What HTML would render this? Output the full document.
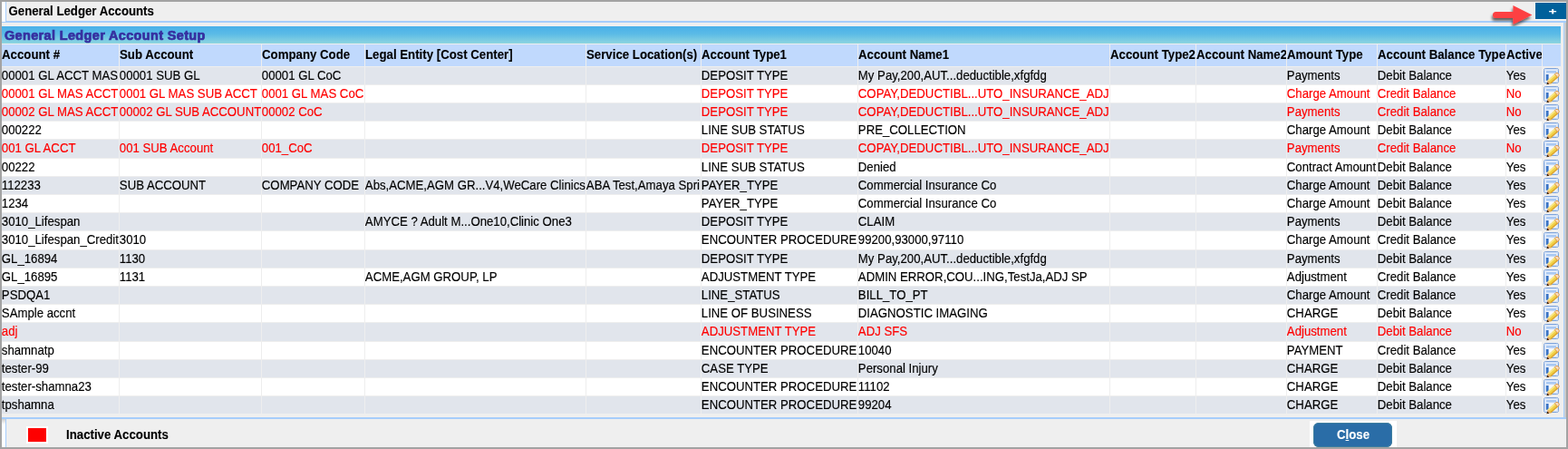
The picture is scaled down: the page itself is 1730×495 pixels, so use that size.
<!DOCTYPE html>
<html lang="en"><head><meta charset="utf-8"><title>General Ledger Accounts</title>
<style>
html,body{margin:0;padding:0}
body{width:1730px;height:495px;overflow:hidden;background:#a3a3a3;position:relative;font-family:"Liberation Sans",sans-serif;font-size:13px;color:#000}
#win{position:absolute;left:2px;top:2px;width:1726px;height:491px;background:#efefef;overflow:hidden}
.abs{position:absolute}
#title{left:7px;top:0;height:21px;line-height:21px;font-size:14px;white-space:nowrap}
#title b{transform:translateX(.5px) scaleX(.944)}
#sect{left:0;top:27px;width:1720px;height:19px;background:linear-gradient(#49b0e9,#5bbbe6 45%,#8ed5e0);}
#sect span{position:absolute;left:2.8px;top:1.4px;line-height:19px;font-weight:bold;font-size:13.8px;color:#3630a0;letter-spacing:.36px;white-space:nowrap;-webkit-text-stroke:.7px #3630a0;transform-origin:0 50%;transform:scaleX(1.046)}
#grid{left:0;top:46px;width:1720px;height:408px;background:#eeeeee}
.c{position:absolute;overflow:hidden;white-space:nowrap;height:19px;line-height:19px;font-size:14px}
b,i{display:inline-block;font-style:normal;transform-origin:0 50%;transform:scaleX(.946);white-space:nowrap}
i{font-weight:normal;-webkit-text-stroke:.15px currentColor;transform:translateX(-.15px) scaleX(.942)}
b{font-weight:bold;-webkit-text-stroke:.1px currentColor}
.h{position:absolute;overflow:hidden;white-space:nowrap;height:24px;line-height:22px;font-size:14px;background:#c0d9fd;top:1px}
.o{background:#e1e5ec}.e{background:#fff}
.r{color:#f00}
.ic{position:absolute;left:1px;top:1px}
.k{background:#efefef;overflow:visible}
#legend{left:71px;top:468px;font-size:14px;line-height:19px;white-space:nowrap}
#btn{left:1447.3px;top:463.5px;width:87px;height:27.2px;border-radius:6px;background:#2a6da7;color:#fff;font-size:14px;line-height:27px;box-shadow:0 0 0 1px #3f7f9f inset}
#btn b{position:absolute;left:26px;top:0;-webkit-text-stroke:.1px #fff}
#btn u{text-decoration:underline;text-decoration-thickness:1px;text-underline-offset:1px}
#plus{left:1691px;top:0;width:35px;height:18px;border:1px solid #f8f6f2;border-right:0;background:#00619b;color:#fff;font:bold 9px/18px "Liberation Sans",sans-serif;text-align:center}
#plus span{display:inline-block;transform:translate(1.5px,.8px) scaleX(1.65);-webkit-text-stroke:.3px #fff}
</style></head><body>
<div id="win">
<div class="abs" style="left:0;top:0;width:4px;height:22px;background:#fff"></div>
<div class="abs" style="left:4px;top:0;width:1px;height:22px;background:#a6cdfb"></div>
<div class="abs" style="left:4px;top:21px;width:1722px;height:2px;background:#a6cdfb"></div>
<div class="abs" style="left:0;top:22px;width:4px;height:1px;background:#a6cdfb"></div>
<div class="abs" id="title"><b>General Ledger Accounts</b></div>
<div class="abs" id="plus"><span>+</span></div>
<svg class="abs" style="left:1636px;top:0" width="60" height="32" viewBox="0 0 60 32"><defs><filter id="sh" x="-30%" y="-30%" width="160%" height="180%"><feGaussianBlur in="SourceAlpha" stdDeviation="1.5"/><feOffset dx="-0.6" dy="2.6"/><feComponentTransfer><feFuncA type="linear" slope="0.6"/></feComponentTransfer><feMerge><feMergeNode/><feMergeNode in="SourceGraphic"/></feMerge></filter></defs><path filter="url(#sh)" d="M12.5 11 L31.4 11 L31.4 4 L52.4 14.6 L31.4 25 L31.4 18 L12.5 18 A3.5 3.5 0 0 1 12.5 11 Z" fill="#fd4042"/></svg>
<div class="abs" id="sect"><span>General Ledger Account Setup</span></div>
<div class="abs" id="grid">
<div class="h" style="left:0px;width:129px"><b>Account #</b></div>
<div class="h" style="left:130px;width:156px"><b>Sub Account</b></div>
<div class="h" style="left:287px;width:113px"><b>Company Code</b></div>
<div class="h" style="left:401px;width:243px"><b>Legal Entity [Cost Center]</b></div>
<div class="h" style="left:645px;width:126px"><b>Service Location(s)</b></div>
<div class="h" style="left:772px;width:172px"><b>Account Type1</b></div>
<div class="h" style="left:945px;width:277px"><b>Account Name1</b></div>
<div class="h" style="left:1223px;width:94px"><b>Account Type2</b></div>
<div class="h" style="left:1318px;width:99px"><b>Account Name2</b></div>
<div class="h" style="left:1418px;width:99px"><b>Amount Type</b></div>
<div class="h" style="left:1518px;width:141px"><b>Account Balance Type</b></div>
<div class="h" style="left:1660px;width:39px"><b>Active</b></div>
<div class="h" style="left:1700px;width:20px"><b></b></div>
<div class="c o" style="left:0px;top:26px;width:129px"><i>00001 GL ACCT MAS</i></div>
<div class="c o" style="left:130px;top:26px;width:156px"><i>00001 SUB GL</i></div>
<div class="c o" style="left:287px;top:26px;width:113px"><i>00001 GL CoC</i></div>
<div class="c o" style="left:401px;top:26px;width:243px"></div>
<div class="c o" style="left:645px;top:26px;width:126px"></div>
<div class="c o" style="left:772px;top:26px;width:172px"><i>DEPOSIT TYPE</i></div>
<div class="c o" style="left:945px;top:26px;width:277px"><i>My Pay,200,AUT...deductible,xfgfdg</i></div>
<div class="c o" style="left:1223px;top:26px;width:94px"></div>
<div class="c o" style="left:1318px;top:26px;width:99px"></div>
<div class="c o" style="left:1418px;top:26px;width:99px"><i>Payments</i></div>
<div class="c o" style="left:1518px;top:26px;width:141px"><i>Debit Balance</i></div>
<div class="c o" style="left:1660px;top:26px;width:39px"><i>Yes</i></div>
<div class="c k" style="left:1700px;top:26px;width:20px"><svg class="ic" viewBox="0 0 19 19" width="19" height="19"><rect x="0.5" y="0.5" width="16" height="16" rx="1.8" fill="#e9f0fb" stroke="#7ea3da"/><rect x="1.6" y="1.6" width="13.8" height="13.8" fill="none" stroke="#cfdff7" stroke-width="1.1"/><rect x="3" y="3" width="11" height="2.6" fill="#a9c8f2"/><rect x="3" y="6.6" width="11" height="7.6" fill="#f6f8fd"/><rect x="2.8" y="7" width="2.8" height="6.8" fill="#3a74c5"/><g transform="translate(3.7 18) rotate(-42.6)"><path d="M3.4 -2.6 L14.4 -2.6 L14.4 2.6 L3.4 2.6 Z" fill="#f1d146"/><path d="M3.4 -2.6 L14.4 -2.6 L14.4 -1 L3.4 -1 Z" fill="#f9e98e"/><path d="M3.4 1.2 L14.4 1.2 L14.4 2.6 L3.4 2.6 Z" fill="#dca232"/><path d="M14 -2.4 L15.6 -2.4 Q17.4 -2 17.4 0 Q17.4 2 15.6 2.4 L14 2.4 Z" fill="#f8dcc0" stroke="#dc9447" stroke-width="0.9"/><path d="M0 0 L3.8 -2.6 L3.8 2.6 Z" fill="#e9ab6c"/><path d="M-0.4 0 L2.1 -1.5 L2.1 1.5 Z" fill="#3a2006"/></g></svg></div>
<div class="c e r" style="left:0px;top:46px;width:129px"><i>00001 GL MAS ACCT</i></div>
<div class="c e r" style="left:130px;top:46px;width:156px"><i>0001 GL MAS SUB ACCT</i></div>
<div class="c e r" style="left:287px;top:46px;width:113px"><i>0001 GL MAS CoC</i></div>
<div class="c e r" style="left:401px;top:46px;width:243px"></div>
<div class="c e r" style="left:645px;top:46px;width:126px"></div>
<div class="c e r" style="left:772px;top:46px;width:172px"><i>DEPOSIT TYPE</i></div>
<div class="c e r" style="left:945px;top:46px;width:277px"><i>COPAY,DEDUCTIBL...UTO_INSURANCE_ADJ</i></div>
<div class="c e r" style="left:1223px;top:46px;width:94px"></div>
<div class="c e r" style="left:1318px;top:46px;width:99px"></div>
<div class="c e r" style="left:1418px;top:46px;width:99px"><i>Charge Amount</i></div>
<div class="c e r" style="left:1518px;top:46px;width:141px"><i>Credit Balance</i></div>
<div class="c e r" style="left:1660px;top:46px;width:39px"><i>No</i></div>
<div class="c k" style="left:1700px;top:46px;width:20px"><svg class="ic" viewBox="0 0 19 19" width="19" height="19"><rect x="0.5" y="0.5" width="16" height="16" rx="1.8" fill="#e9f0fb" stroke="#7ea3da"/><rect x="1.6" y="1.6" width="13.8" height="13.8" fill="none" stroke="#cfdff7" stroke-width="1.1"/><rect x="3" y="3" width="11" height="2.6" fill="#a9c8f2"/><rect x="3" y="6.6" width="11" height="7.6" fill="#f6f8fd"/><rect x="2.8" y="7" width="2.8" height="6.8" fill="#3a74c5"/><g transform="translate(3.7 18) rotate(-42.6)"><path d="M3.4 -2.6 L14.4 -2.6 L14.4 2.6 L3.4 2.6 Z" fill="#f1d146"/><path d="M3.4 -2.6 L14.4 -2.6 L14.4 -1 L3.4 -1 Z" fill="#f9e98e"/><path d="M3.4 1.2 L14.4 1.2 L14.4 2.6 L3.4 2.6 Z" fill="#dca232"/><path d="M14 -2.4 L15.6 -2.4 Q17.4 -2 17.4 0 Q17.4 2 15.6 2.4 L14 2.4 Z" fill="#f8dcc0" stroke="#dc9447" stroke-width="0.9"/><path d="M0 0 L3.8 -2.6 L3.8 2.6 Z" fill="#e9ab6c"/><path d="M-0.4 0 L2.1 -1.5 L2.1 1.5 Z" fill="#3a2006"/></g></svg></div>
<div class="c o r" style="left:0px;top:66px;width:129px"><i>00002 GL MAS ACCT</i></div>
<div class="c o r" style="left:130px;top:66px;width:156px"><i>00002 GL SUB ACCOUNT</i></div>
<div class="c o r" style="left:287px;top:66px;width:113px"><i>00002 CoC</i></div>
<div class="c o r" style="left:401px;top:66px;width:243px"></div>
<div class="c o r" style="left:645px;top:66px;width:126px"></div>
<div class="c o r" style="left:772px;top:66px;width:172px"><i>DEPOSIT TYPE</i></div>
<div class="c o r" style="left:945px;top:66px;width:277px"><i>COPAY,DEDUCTIBL...UTO_INSURANCE_ADJ</i></div>
<div class="c o r" style="left:1223px;top:66px;width:94px"></div>
<div class="c o r" style="left:1318px;top:66px;width:99px"></div>
<div class="c o r" style="left:1418px;top:66px;width:99px"><i>Payments</i></div>
<div class="c o r" style="left:1518px;top:66px;width:141px"><i>Credit Balance</i></div>
<div class="c o r" style="left:1660px;top:66px;width:39px"><i>No</i></div>
<div class="c k" style="left:1700px;top:66px;width:20px"><svg class="ic" viewBox="0 0 19 19" width="19" height="19"><rect x="0.5" y="0.5" width="16" height="16" rx="1.8" fill="#e9f0fb" stroke="#7ea3da"/><rect x="1.6" y="1.6" width="13.8" height="13.8" fill="none" stroke="#cfdff7" stroke-width="1.1"/><rect x="3" y="3" width="11" height="2.6" fill="#a9c8f2"/><rect x="3" y="6.6" width="11" height="7.6" fill="#f6f8fd"/><rect x="2.8" y="7" width="2.8" height="6.8" fill="#3a74c5"/><g transform="translate(3.7 18) rotate(-42.6)"><path d="M3.4 -2.6 L14.4 -2.6 L14.4 2.6 L3.4 2.6 Z" fill="#f1d146"/><path d="M3.4 -2.6 L14.4 -2.6 L14.4 -1 L3.4 -1 Z" fill="#f9e98e"/><path d="M3.4 1.2 L14.4 1.2 L14.4 2.6 L3.4 2.6 Z" fill="#dca232"/><path d="M14 -2.4 L15.6 -2.4 Q17.4 -2 17.4 0 Q17.4 2 15.6 2.4 L14 2.4 Z" fill="#f8dcc0" stroke="#dc9447" stroke-width="0.9"/><path d="M0 0 L3.8 -2.6 L3.8 2.6 Z" fill="#e9ab6c"/><path d="M-0.4 0 L2.1 -1.5 L2.1 1.5 Z" fill="#3a2006"/></g></svg></div>
<div class="c e" style="left:0px;top:86px;width:129px"><i>000222</i></div>
<div class="c e" style="left:130px;top:86px;width:156px"></div>
<div class="c e" style="left:287px;top:86px;width:113px"></div>
<div class="c e" style="left:401px;top:86px;width:243px"></div>
<div class="c e" style="left:645px;top:86px;width:126px"></div>
<div class="c e" style="left:772px;top:86px;width:172px"><i>LINE SUB STATUS</i></div>
<div class="c e" style="left:945px;top:86px;width:277px"><i>PRE_COLLECTION</i></div>
<div class="c e" style="left:1223px;top:86px;width:94px"></div>
<div class="c e" style="left:1318px;top:86px;width:99px"></div>
<div class="c e" style="left:1418px;top:86px;width:99px"><i>Charge Amount</i></div>
<div class="c e" style="left:1518px;top:86px;width:141px"><i>Debit Balance</i></div>
<div class="c e" style="left:1660px;top:86px;width:39px"><i>Yes</i></div>
<div class="c k" style="left:1700px;top:86px;width:20px"><svg class="ic" viewBox="0 0 19 19" width="19" height="19"><rect x="0.5" y="0.5" width="16" height="16" rx="1.8" fill="#e9f0fb" stroke="#7ea3da"/><rect x="1.6" y="1.6" width="13.8" height="13.8" fill="none" stroke="#cfdff7" stroke-width="1.1"/><rect x="3" y="3" width="11" height="2.6" fill="#a9c8f2"/><rect x="3" y="6.6" width="11" height="7.6" fill="#f6f8fd"/><rect x="2.8" y="7" width="2.8" height="6.8" fill="#3a74c5"/><g transform="translate(3.7 18) rotate(-42.6)"><path d="M3.4 -2.6 L14.4 -2.6 L14.4 2.6 L3.4 2.6 Z" fill="#f1d146"/><path d="M3.4 -2.6 L14.4 -2.6 L14.4 -1 L3.4 -1 Z" fill="#f9e98e"/><path d="M3.4 1.2 L14.4 1.2 L14.4 2.6 L3.4 2.6 Z" fill="#dca232"/><path d="M14 -2.4 L15.6 -2.4 Q17.4 -2 17.4 0 Q17.4 2 15.6 2.4 L14 2.4 Z" fill="#f8dcc0" stroke="#dc9447" stroke-width="0.9"/><path d="M0 0 L3.8 -2.6 L3.8 2.6 Z" fill="#e9ab6c"/><path d="M-0.4 0 L2.1 -1.5 L2.1 1.5 Z" fill="#3a2006"/></g></svg></div>
<div class="c o r" style="left:0px;top:106px;width:129px;height:20px"><i>001 GL ACCT</i></div>
<div class="c o r" style="left:130px;top:106px;width:156px;height:20px"><i>001 SUB Account</i></div>
<div class="c o r" style="left:287px;top:106px;width:113px;height:20px"><i>001_CoC</i></div>
<div class="c o r" style="left:401px;top:106px;width:243px;height:20px"></div>
<div class="c o r" style="left:645px;top:106px;width:126px;height:20px"></div>
<div class="c o r" style="left:772px;top:106px;width:172px;height:20px"><i>DEPOSIT TYPE</i></div>
<div class="c o r" style="left:945px;top:106px;width:277px;height:20px"><i>COPAY,DEDUCTIBL...UTO_INSURANCE_ADJ</i></div>
<div class="c o r" style="left:1223px;top:106px;width:94px;height:20px"></div>
<div class="c o r" style="left:1318px;top:106px;width:99px;height:20px"></div>
<div class="c o r" style="left:1418px;top:106px;width:99px;height:20px"><i>Payments</i></div>
<div class="c o r" style="left:1518px;top:106px;width:141px;height:20px"><i>Credit Balance</i></div>
<div class="c o r" style="left:1660px;top:106px;width:39px;height:20px"><i>No</i></div>
<div class="c k" style="left:1700px;top:106px;width:20px"><svg class="ic" viewBox="0 0 19 19" width="19" height="19"><rect x="0.5" y="0.5" width="16" height="16" rx="1.8" fill="#e9f0fb" stroke="#7ea3da"/><rect x="1.6" y="1.6" width="13.8" height="13.8" fill="none" stroke="#cfdff7" stroke-width="1.1"/><rect x="3" y="3" width="11" height="2.6" fill="#a9c8f2"/><rect x="3" y="6.6" width="11" height="7.6" fill="#f6f8fd"/><rect x="2.8" y="7" width="2.8" height="6.8" fill="#3a74c5"/><g transform="translate(3.7 18) rotate(-42.6)"><path d="M3.4 -2.6 L14.4 -2.6 L14.4 2.6 L3.4 2.6 Z" fill="#f1d146"/><path d="M3.4 -2.6 L14.4 -2.6 L14.4 -1 L3.4 -1 Z" fill="#f9e98e"/><path d="M3.4 1.2 L14.4 1.2 L14.4 2.6 L3.4 2.6 Z" fill="#dca232"/><path d="M14 -2.4 L15.6 -2.4 Q17.4 -2 17.4 0 Q17.4 2 15.6 2.4 L14 2.4 Z" fill="#f8dcc0" stroke="#dc9447" stroke-width="0.9"/><path d="M0 0 L3.8 -2.6 L3.8 2.6 Z" fill="#e9ab6c"/><path d="M-0.4 0 L2.1 -1.5 L2.1 1.5 Z" fill="#3a2006"/></g></svg></div>
<div class="c e" style="left:0px;top:127px;width:129px"><i>00222</i></div>
<div class="c e" style="left:130px;top:127px;width:156px"></div>
<div class="c e" style="left:287px;top:127px;width:113px"></div>
<div class="c e" style="left:401px;top:127px;width:243px"></div>
<div class="c e" style="left:645px;top:127px;width:126px"></div>
<div class="c e" style="left:772px;top:127px;width:172px"><i>LINE SUB STATUS</i></div>
<div class="c e" style="left:945px;top:127px;width:277px"><i>Denied</i></div>
<div class="c e" style="left:1223px;top:127px;width:94px"></div>
<div class="c e" style="left:1318px;top:127px;width:99px"></div>
<div class="c e" style="left:1418px;top:127px;width:99px"><i>Contract Amount</i></div>
<div class="c e" style="left:1518px;top:127px;width:141px"><i>Debit Balance</i></div>
<div class="c e" style="left:1660px;top:127px;width:39px"><i>Yes</i></div>
<div class="c k" style="left:1700px;top:127px;width:20px"><svg class="ic" viewBox="0 0 19 19" width="19" height="19"><rect x="0.5" y="0.5" width="16" height="16" rx="1.8" fill="#e9f0fb" stroke="#7ea3da"/><rect x="1.6" y="1.6" width="13.8" height="13.8" fill="none" stroke="#cfdff7" stroke-width="1.1"/><rect x="3" y="3" width="11" height="2.6" fill="#a9c8f2"/><rect x="3" y="6.6" width="11" height="7.6" fill="#f6f8fd"/><rect x="2.8" y="7" width="2.8" height="6.8" fill="#3a74c5"/><g transform="translate(3.7 18) rotate(-42.6)"><path d="M3.4 -2.6 L14.4 -2.6 L14.4 2.6 L3.4 2.6 Z" fill="#f1d146"/><path d="M3.4 -2.6 L14.4 -2.6 L14.4 -1 L3.4 -1 Z" fill="#f9e98e"/><path d="M3.4 1.2 L14.4 1.2 L14.4 2.6 L3.4 2.6 Z" fill="#dca232"/><path d="M14 -2.4 L15.6 -2.4 Q17.4 -2 17.4 0 Q17.4 2 15.6 2.4 L14 2.4 Z" fill="#f8dcc0" stroke="#dc9447" stroke-width="0.9"/><path d="M0 0 L3.8 -2.6 L3.8 2.6 Z" fill="#e9ab6c"/><path d="M-0.4 0 L2.1 -1.5 L2.1 1.5 Z" fill="#3a2006"/></g></svg></div>
<div class="c o" style="left:0px;top:147px;width:129px"><i>112233</i></div>
<div class="c o" style="left:130px;top:147px;width:156px"><i>SUB ACCOUNT</i></div>
<div class="c o" style="left:287px;top:147px;width:113px"><i>COMPANY CODE</i></div>
<div class="c o" style="left:401px;top:147px;width:243px"><i>Abs,ACME,AGM GR...V4,WeCare Clinics</i></div>
<div class="c o" style="left:645px;top:147px;width:126px"><i>ABA Test,Amaya Spri</i></div>
<div class="c o" style="left:772px;top:147px;width:172px"><i>PAYER_TYPE</i></div>
<div class="c o" style="left:945px;top:147px;width:277px"><i>Commercial Insurance Co</i></div>
<div class="c o" style="left:1223px;top:147px;width:94px"></div>
<div class="c o" style="left:1318px;top:147px;width:99px"></div>
<div class="c o" style="left:1418px;top:147px;width:99px"><i>Charge Amount</i></div>
<div class="c o" style="left:1518px;top:147px;width:141px"><i>Debit Balance</i></div>
<div class="c o" style="left:1660px;top:147px;width:39px"><i>Yes</i></div>
<div class="c k" style="left:1700px;top:147px;width:20px"><svg class="ic" viewBox="0 0 19 19" width="19" height="19"><rect x="0.5" y="0.5" width="16" height="16" rx="1.8" fill="#e9f0fb" stroke="#7ea3da"/><rect x="1.6" y="1.6" width="13.8" height="13.8" fill="none" stroke="#cfdff7" stroke-width="1.1"/><rect x="3" y="3" width="11" height="2.6" fill="#a9c8f2"/><rect x="3" y="6.6" width="11" height="7.6" fill="#f6f8fd"/><rect x="2.8" y="7" width="2.8" height="6.8" fill="#3a74c5"/><g transform="translate(3.7 18) rotate(-42.6)"><path d="M3.4 -2.6 L14.4 -2.6 L14.4 2.6 L3.4 2.6 Z" fill="#f1d146"/><path d="M3.4 -2.6 L14.4 -2.6 L14.4 -1 L3.4 -1 Z" fill="#f9e98e"/><path d="M3.4 1.2 L14.4 1.2 L14.4 2.6 L3.4 2.6 Z" fill="#dca232"/><path d="M14 -2.4 L15.6 -2.4 Q17.4 -2 17.4 0 Q17.4 2 15.6 2.4 L14 2.4 Z" fill="#f8dcc0" stroke="#dc9447" stroke-width="0.9"/><path d="M0 0 L3.8 -2.6 L3.8 2.6 Z" fill="#e9ab6c"/><path d="M-0.4 0 L2.1 -1.5 L2.1 1.5 Z" fill="#3a2006"/></g></svg></div>
<div class="c e" style="left:0px;top:167px;width:129px"><i>1234</i></div>
<div class="c e" style="left:130px;top:167px;width:156px"></div>
<div class="c e" style="left:287px;top:167px;width:113px"></div>
<div class="c e" style="left:401px;top:167px;width:243px"></div>
<div class="c e" style="left:645px;top:167px;width:126px"></div>
<div class="c e" style="left:772px;top:167px;width:172px"><i>PAYER_TYPE</i></div>
<div class="c e" style="left:945px;top:167px;width:277px"><i>Commercial Insurance Co</i></div>
<div class="c e" style="left:1223px;top:167px;width:94px"></div>
<div class="c e" style="left:1318px;top:167px;width:99px"></div>
<div class="c e" style="left:1418px;top:167px;width:99px"><i>Charge Amount</i></div>
<div class="c e" style="left:1518px;top:167px;width:141px"><i>Debit Balance</i></div>
<div class="c e" style="left:1660px;top:167px;width:39px"><i>Yes</i></div>
<div class="c k" style="left:1700px;top:167px;width:20px"><svg class="ic" viewBox="0 0 19 19" width="19" height="19"><rect x="0.5" y="0.5" width="16" height="16" rx="1.8" fill="#e9f0fb" stroke="#7ea3da"/><rect x="1.6" y="1.6" width="13.8" height="13.8" fill="none" stroke="#cfdff7" stroke-width="1.1"/><rect x="3" y="3" width="11" height="2.6" fill="#a9c8f2"/><rect x="3" y="6.6" width="11" height="7.6" fill="#f6f8fd"/><rect x="2.8" y="7" width="2.8" height="6.8" fill="#3a74c5"/><g transform="translate(3.7 18) rotate(-42.6)"><path d="M3.4 -2.6 L14.4 -2.6 L14.4 2.6 L3.4 2.6 Z" fill="#f1d146"/><path d="M3.4 -2.6 L14.4 -2.6 L14.4 -1 L3.4 -1 Z" fill="#f9e98e"/><path d="M3.4 1.2 L14.4 1.2 L14.4 2.6 L3.4 2.6 Z" fill="#dca232"/><path d="M14 -2.4 L15.6 -2.4 Q17.4 -2 17.4 0 Q17.4 2 15.6 2.4 L14 2.4 Z" fill="#f8dcc0" stroke="#dc9447" stroke-width="0.9"/><path d="M0 0 L3.8 -2.6 L3.8 2.6 Z" fill="#e9ab6c"/><path d="M-0.4 0 L2.1 -1.5 L2.1 1.5 Z" fill="#3a2006"/></g></svg></div>
<div class="c o" style="left:0px;top:187px;width:129px"><i>3010_Lifespan</i></div>
<div class="c o" style="left:130px;top:187px;width:156px"></div>
<div class="c o" style="left:287px;top:187px;width:113px"></div>
<div class="c o" style="left:401px;top:187px;width:243px"><i>AMYCE ? Adult M...One10,Clinic One3</i></div>
<div class="c o" style="left:645px;top:187px;width:126px"></div>
<div class="c o" style="left:772px;top:187px;width:172px"><i>DEPOSIT TYPE</i></div>
<div class="c o" style="left:945px;top:187px;width:277px"><i>CLAIM</i></div>
<div class="c o" style="left:1223px;top:187px;width:94px"></div>
<div class="c o" style="left:1318px;top:187px;width:99px"></div>
<div class="c o" style="left:1418px;top:187px;width:99px"><i>Payments</i></div>
<div class="c o" style="left:1518px;top:187px;width:141px"><i>Debit Balance</i></div>
<div class="c o" style="left:1660px;top:187px;width:39px"><i>Yes</i></div>
<div class="c k" style="left:1700px;top:187px;width:20px"><svg class="ic" viewBox="0 0 19 19" width="19" height="19"><rect x="0.5" y="0.5" width="16" height="16" rx="1.8" fill="#e9f0fb" stroke="#7ea3da"/><rect x="1.6" y="1.6" width="13.8" height="13.8" fill="none" stroke="#cfdff7" stroke-width="1.1"/><rect x="3" y="3" width="11" height="2.6" fill="#a9c8f2"/><rect x="3" y="6.6" width="11" height="7.6" fill="#f6f8fd"/><rect x="2.8" y="7" width="2.8" height="6.8" fill="#3a74c5"/><g transform="translate(3.7 18) rotate(-42.6)"><path d="M3.4 -2.6 L14.4 -2.6 L14.4 2.6 L3.4 2.6 Z" fill="#f1d146"/><path d="M3.4 -2.6 L14.4 -2.6 L14.4 -1 L3.4 -1 Z" fill="#f9e98e"/><path d="M3.4 1.2 L14.4 1.2 L14.4 2.6 L3.4 2.6 Z" fill="#dca232"/><path d="M14 -2.4 L15.6 -2.4 Q17.4 -2 17.4 0 Q17.4 2 15.6 2.4 L14 2.4 Z" fill="#f8dcc0" stroke="#dc9447" stroke-width="0.9"/><path d="M0 0 L3.8 -2.6 L3.8 2.6 Z" fill="#e9ab6c"/><path d="M-0.4 0 L2.1 -1.5 L2.1 1.5 Z" fill="#3a2006"/></g></svg></div>
<div class="c e" style="left:0px;top:207px;width:129px;height:20px"><i>3010_Lifespan_Credit</i></div>
<div class="c e" style="left:130px;top:207px;width:156px;height:20px"><i>3010</i></div>
<div class="c e" style="left:287px;top:207px;width:113px;height:20px"></div>
<div class="c e" style="left:401px;top:207px;width:243px;height:20px"></div>
<div class="c e" style="left:645px;top:207px;width:126px;height:20px"></div>
<div class="c e" style="left:772px;top:207px;width:172px;height:20px"><i>ENCOUNTER PROCEDURE</i></div>
<div class="c e" style="left:945px;top:207px;width:277px;height:20px"><i>99200,93000,97110</i></div>
<div class="c e" style="left:1223px;top:207px;width:94px;height:20px"></div>
<div class="c e" style="left:1318px;top:207px;width:99px;height:20px"></div>
<div class="c e" style="left:1418px;top:207px;width:99px;height:20px"><i>Charge Amount</i></div>
<div class="c e" style="left:1518px;top:207px;width:141px;height:20px"><i>Credit Balance</i></div>
<div class="c e" style="left:1660px;top:207px;width:39px;height:20px"><i>Yes</i></div>
<div class="c k" style="left:1700px;top:207px;width:20px"><svg class="ic" viewBox="0 0 19 19" width="19" height="19"><rect x="0.5" y="0.5" width="16" height="16" rx="1.8" fill="#e9f0fb" stroke="#7ea3da"/><rect x="1.6" y="1.6" width="13.8" height="13.8" fill="none" stroke="#cfdff7" stroke-width="1.1"/><rect x="3" y="3" width="11" height="2.6" fill="#a9c8f2"/><rect x="3" y="6.6" width="11" height="7.6" fill="#f6f8fd"/><rect x="2.8" y="7" width="2.8" height="6.8" fill="#3a74c5"/><g transform="translate(3.7 18) rotate(-42.6)"><path d="M3.4 -2.6 L14.4 -2.6 L14.4 2.6 L3.4 2.6 Z" fill="#f1d146"/><path d="M3.4 -2.6 L14.4 -2.6 L14.4 -1 L3.4 -1 Z" fill="#f9e98e"/><path d="M3.4 1.2 L14.4 1.2 L14.4 2.6 L3.4 2.6 Z" fill="#dca232"/><path d="M14 -2.4 L15.6 -2.4 Q17.4 -2 17.4 0 Q17.4 2 15.6 2.4 L14 2.4 Z" fill="#f8dcc0" stroke="#dc9447" stroke-width="0.9"/><path d="M0 0 L3.8 -2.6 L3.8 2.6 Z" fill="#e9ab6c"/><path d="M-0.4 0 L2.1 -1.5 L2.1 1.5 Z" fill="#3a2006"/></g></svg></div>
<div class="c o" style="left:0px;top:228px;width:129px"><i>GL_16894</i></div>
<div class="c o" style="left:130px;top:228px;width:156px"><i>1130</i></div>
<div class="c o" style="left:287px;top:228px;width:113px"></div>
<div class="c o" style="left:401px;top:228px;width:243px"></div>
<div class="c o" style="left:645px;top:228px;width:126px"></div>
<div class="c o" style="left:772px;top:228px;width:172px"><i>DEPOSIT TYPE</i></div>
<div class="c o" style="left:945px;top:228px;width:277px"><i>My Pay,200,AUT...deductible,xfgfdg</i></div>
<div class="c o" style="left:1223px;top:228px;width:94px"></div>
<div class="c o" style="left:1318px;top:228px;width:99px"></div>
<div class="c o" style="left:1418px;top:228px;width:99px"><i>Payments</i></div>
<div class="c o" style="left:1518px;top:228px;width:141px"><i>Debit Balance</i></div>
<div class="c o" style="left:1660px;top:228px;width:39px"><i>Yes</i></div>
<div class="c k" style="left:1700px;top:228px;width:20px"><svg class="ic" viewBox="0 0 19 19" width="19" height="19"><rect x="0.5" y="0.5" width="16" height="16" rx="1.8" fill="#e9f0fb" stroke="#7ea3da"/><rect x="1.6" y="1.6" width="13.8" height="13.8" fill="none" stroke="#cfdff7" stroke-width="1.1"/><rect x="3" y="3" width="11" height="2.6" fill="#a9c8f2"/><rect x="3" y="6.6" width="11" height="7.6" fill="#f6f8fd"/><rect x="2.8" y="7" width="2.8" height="6.8" fill="#3a74c5"/><g transform="translate(3.7 18) rotate(-42.6)"><path d="M3.4 -2.6 L14.4 -2.6 L14.4 2.6 L3.4 2.6 Z" fill="#f1d146"/><path d="M3.4 -2.6 L14.4 -2.6 L14.4 -1 L3.4 -1 Z" fill="#f9e98e"/><path d="M3.4 1.2 L14.4 1.2 L14.4 2.6 L3.4 2.6 Z" fill="#dca232"/><path d="M14 -2.4 L15.6 -2.4 Q17.4 -2 17.4 0 Q17.4 2 15.6 2.4 L14 2.4 Z" fill="#f8dcc0" stroke="#dc9447" stroke-width="0.9"/><path d="M0 0 L3.8 -2.6 L3.8 2.6 Z" fill="#e9ab6c"/><path d="M-0.4 0 L2.1 -1.5 L2.1 1.5 Z" fill="#3a2006"/></g></svg></div>
<div class="c e" style="left:0px;top:248px;width:129px"><i>GL_16895</i></div>
<div class="c e" style="left:130px;top:248px;width:156px"><i>1131</i></div>
<div class="c e" style="left:287px;top:248px;width:113px"></div>
<div class="c e" style="left:401px;top:248px;width:243px"><i>ACME,AGM GROUP, LP</i></div>
<div class="c e" style="left:645px;top:248px;width:126px"></div>
<div class="c e" style="left:772px;top:248px;width:172px"><i>ADJUSTMENT TYPE</i></div>
<div class="c e" style="left:945px;top:248px;width:277px"><i>ADMIN ERROR,COU...ING,TestJa,ADJ SP</i></div>
<div class="c e" style="left:1223px;top:248px;width:94px"></div>
<div class="c e" style="left:1318px;top:248px;width:99px"></div>
<div class="c e" style="left:1418px;top:248px;width:99px"><i>Adjustment</i></div>
<div class="c e" style="left:1518px;top:248px;width:141px"><i>Credit Balance</i></div>
<div class="c e" style="left:1660px;top:248px;width:39px"><i>Yes</i></div>
<div class="c k" style="left:1700px;top:248px;width:20px"><svg class="ic" viewBox="0 0 19 19" width="19" height="19"><rect x="0.5" y="0.5" width="16" height="16" rx="1.8" fill="#e9f0fb" stroke="#7ea3da"/><rect x="1.6" y="1.6" width="13.8" height="13.8" fill="none" stroke="#cfdff7" stroke-width="1.1"/><rect x="3" y="3" width="11" height="2.6" fill="#a9c8f2"/><rect x="3" y="6.6" width="11" height="7.6" fill="#f6f8fd"/><rect x="2.8" y="7" width="2.8" height="6.8" fill="#3a74c5"/><g transform="translate(3.7 18) rotate(-42.6)"><path d="M3.4 -2.6 L14.4 -2.6 L14.4 2.6 L3.4 2.6 Z" fill="#f1d146"/><path d="M3.4 -2.6 L14.4 -2.6 L14.4 -1 L3.4 -1 Z" fill="#f9e98e"/><path d="M3.4 1.2 L14.4 1.2 L14.4 2.6 L3.4 2.6 Z" fill="#dca232"/><path d="M14 -2.4 L15.6 -2.4 Q17.4 -2 17.4 0 Q17.4 2 15.6 2.4 L14 2.4 Z" fill="#f8dcc0" stroke="#dc9447" stroke-width="0.9"/><path d="M0 0 L3.8 -2.6 L3.8 2.6 Z" fill="#e9ab6c"/><path d="M-0.4 0 L2.1 -1.5 L2.1 1.5 Z" fill="#3a2006"/></g></svg></div>
<div class="c o" style="left:0px;top:268px;width:129px"><i>PSDQA1</i></div>
<div class="c o" style="left:130px;top:268px;width:156px"></div>
<div class="c o" style="left:287px;top:268px;width:113px"></div>
<div class="c o" style="left:401px;top:268px;width:243px"></div>
<div class="c o" style="left:645px;top:268px;width:126px"></div>
<div class="c o" style="left:772px;top:268px;width:172px"><i>LINE_STATUS</i></div>
<div class="c o" style="left:945px;top:268px;width:277px"><i>BILL_TO_PT</i></div>
<div class="c o" style="left:1223px;top:268px;width:94px"></div>
<div class="c o" style="left:1318px;top:268px;width:99px"></div>
<div class="c o" style="left:1418px;top:268px;width:99px"><i>Charge Amount</i></div>
<div class="c o" style="left:1518px;top:268px;width:141px"><i>Credit Balance</i></div>
<div class="c o" style="left:1660px;top:268px;width:39px"><i>Yes</i></div>
<div class="c k" style="left:1700px;top:268px;width:20px"><svg class="ic" viewBox="0 0 19 19" width="19" height="19"><rect x="0.5" y="0.5" width="16" height="16" rx="1.8" fill="#e9f0fb" stroke="#7ea3da"/><rect x="1.6" y="1.6" width="13.8" height="13.8" fill="none" stroke="#cfdff7" stroke-width="1.1"/><rect x="3" y="3" width="11" height="2.6" fill="#a9c8f2"/><rect x="3" y="6.6" width="11" height="7.6" fill="#f6f8fd"/><rect x="2.8" y="7" width="2.8" height="6.8" fill="#3a74c5"/><g transform="translate(3.7 18) rotate(-42.6)"><path d="M3.4 -2.6 L14.4 -2.6 L14.4 2.6 L3.4 2.6 Z" fill="#f1d146"/><path d="M3.4 -2.6 L14.4 -2.6 L14.4 -1 L3.4 -1 Z" fill="#f9e98e"/><path d="M3.4 1.2 L14.4 1.2 L14.4 2.6 L3.4 2.6 Z" fill="#dca232"/><path d="M14 -2.4 L15.6 -2.4 Q17.4 -2 17.4 0 Q17.4 2 15.6 2.4 L14 2.4 Z" fill="#f8dcc0" stroke="#dc9447" stroke-width="0.9"/><path d="M0 0 L3.8 -2.6 L3.8 2.6 Z" fill="#e9ab6c"/><path d="M-0.4 0 L2.1 -1.5 L2.1 1.5 Z" fill="#3a2006"/></g></svg></div>
<div class="c e" style="left:0px;top:288px;width:129px"><i>SAmple accnt</i></div>
<div class="c e" style="left:130px;top:288px;width:156px"></div>
<div class="c e" style="left:287px;top:288px;width:113px"></div>
<div class="c e" style="left:401px;top:288px;width:243px"></div>
<div class="c e" style="left:645px;top:288px;width:126px"></div>
<div class="c e" style="left:772px;top:288px;width:172px"><i>LINE OF BUSINESS</i></div>
<div class="c e" style="left:945px;top:288px;width:277px"><i>DIAGNOSTIC IMAGING</i></div>
<div class="c e" style="left:1223px;top:288px;width:94px"></div>
<div class="c e" style="left:1318px;top:288px;width:99px"></div>
<div class="c e" style="left:1418px;top:288px;width:99px"><i>CHARGE</i></div>
<div class="c e" style="left:1518px;top:288px;width:141px"><i>Debit Balance</i></div>
<div class="c e" style="left:1660px;top:288px;width:39px"><i>Yes</i></div>
<div class="c k" style="left:1700px;top:288px;width:20px"><svg class="ic" viewBox="0 0 19 19" width="19" height="19"><rect x="0.5" y="0.5" width="16" height="16" rx="1.8" fill="#e9f0fb" stroke="#7ea3da"/><rect x="1.6" y="1.6" width="13.8" height="13.8" fill="none" stroke="#cfdff7" stroke-width="1.1"/><rect x="3" y="3" width="11" height="2.6" fill="#a9c8f2"/><rect x="3" y="6.6" width="11" height="7.6" fill="#f6f8fd"/><rect x="2.8" y="7" width="2.8" height="6.8" fill="#3a74c5"/><g transform="translate(3.7 18) rotate(-42.6)"><path d="M3.4 -2.6 L14.4 -2.6 L14.4 2.6 L3.4 2.6 Z" fill="#f1d146"/><path d="M3.4 -2.6 L14.4 -2.6 L14.4 -1 L3.4 -1 Z" fill="#f9e98e"/><path d="M3.4 1.2 L14.4 1.2 L14.4 2.6 L3.4 2.6 Z" fill="#dca232"/><path d="M14 -2.4 L15.6 -2.4 Q17.4 -2 17.4 0 Q17.4 2 15.6 2.4 L14 2.4 Z" fill="#f8dcc0" stroke="#dc9447" stroke-width="0.9"/><path d="M0 0 L3.8 -2.6 L3.8 2.6 Z" fill="#e9ab6c"/><path d="M-0.4 0 L2.1 -1.5 L2.1 1.5 Z" fill="#3a2006"/></g></svg></div>
<div class="c o r" style="left:0px;top:308px;width:129px;height:20px"><i>adj</i></div>
<div class="c o r" style="left:130px;top:308px;width:156px;height:20px"></div>
<div class="c o r" style="left:287px;top:308px;width:113px;height:20px"></div>
<div class="c o r" style="left:401px;top:308px;width:243px;height:20px"></div>
<div class="c o r" style="left:645px;top:308px;width:126px;height:20px"></div>
<div class="c o r" style="left:772px;top:308px;width:172px;height:20px"><i>ADJUSTMENT TYPE</i></div>
<div class="c o r" style="left:945px;top:308px;width:277px;height:20px"><i>ADJ SFS</i></div>
<div class="c o r" style="left:1223px;top:308px;width:94px;height:20px"></div>
<div class="c o r" style="left:1318px;top:308px;width:99px;height:20px"></div>
<div class="c o r" style="left:1418px;top:308px;width:99px;height:20px"><i>Adjustment</i></div>
<div class="c o r" style="left:1518px;top:308px;width:141px;height:20px"><i>Debit Balance</i></div>
<div class="c o r" style="left:1660px;top:308px;width:39px;height:20px"><i>No</i></div>
<div class="c k" style="left:1700px;top:308px;width:20px"><svg class="ic" viewBox="0 0 19 19" width="19" height="19"><rect x="0.5" y="0.5" width="16" height="16" rx="1.8" fill="#e9f0fb" stroke="#7ea3da"/><rect x="1.6" y="1.6" width="13.8" height="13.8" fill="none" stroke="#cfdff7" stroke-width="1.1"/><rect x="3" y="3" width="11" height="2.6" fill="#a9c8f2"/><rect x="3" y="6.6" width="11" height="7.6" fill="#f6f8fd"/><rect x="2.8" y="7" width="2.8" height="6.8" fill="#3a74c5"/><g transform="translate(3.7 18) rotate(-42.6)"><path d="M3.4 -2.6 L14.4 -2.6 L14.4 2.6 L3.4 2.6 Z" fill="#f1d146"/><path d="M3.4 -2.6 L14.4 -2.6 L14.4 -1 L3.4 -1 Z" fill="#f9e98e"/><path d="M3.4 1.2 L14.4 1.2 L14.4 2.6 L3.4 2.6 Z" fill="#dca232"/><path d="M14 -2.4 L15.6 -2.4 Q17.4 -2 17.4 0 Q17.4 2 15.6 2.4 L14 2.4 Z" fill="#f8dcc0" stroke="#dc9447" stroke-width="0.9"/><path d="M0 0 L3.8 -2.6 L3.8 2.6 Z" fill="#e9ab6c"/><path d="M-0.4 0 L2.1 -1.5 L2.1 1.5 Z" fill="#3a2006"/></g></svg></div>
<div class="c e" style="left:0px;top:329px;width:129px"><i>shamnatp</i></div>
<div class="c e" style="left:130px;top:329px;width:156px"></div>
<div class="c e" style="left:287px;top:329px;width:113px"></div>
<div class="c e" style="left:401px;top:329px;width:243px"></div>
<div class="c e" style="left:645px;top:329px;width:126px"></div>
<div class="c e" style="left:772px;top:329px;width:172px"><i>ENCOUNTER PROCEDURE</i></div>
<div class="c e" style="left:945px;top:329px;width:277px"><i>10040</i></div>
<div class="c e" style="left:1223px;top:329px;width:94px"></div>
<div class="c e" style="left:1318px;top:329px;width:99px"></div>
<div class="c e" style="left:1418px;top:329px;width:99px"><i>PAYMENT</i></div>
<div class="c e" style="left:1518px;top:329px;width:141px"><i>Credit Balance</i></div>
<div class="c e" style="left:1660px;top:329px;width:39px"><i>Yes</i></div>
<div class="c k" style="left:1700px;top:329px;width:20px"><svg class="ic" viewBox="0 0 19 19" width="19" height="19"><rect x="0.5" y="0.5" width="16" height="16" rx="1.8" fill="#e9f0fb" stroke="#7ea3da"/><rect x="1.6" y="1.6" width="13.8" height="13.8" fill="none" stroke="#cfdff7" stroke-width="1.1"/><rect x="3" y="3" width="11" height="2.6" fill="#a9c8f2"/><rect x="3" y="6.6" width="11" height="7.6" fill="#f6f8fd"/><rect x="2.8" y="7" width="2.8" height="6.8" fill="#3a74c5"/><g transform="translate(3.7 18) rotate(-42.6)"><path d="M3.4 -2.6 L14.4 -2.6 L14.4 2.6 L3.4 2.6 Z" fill="#f1d146"/><path d="M3.4 -2.6 L14.4 -2.6 L14.4 -1 L3.4 -1 Z" fill="#f9e98e"/><path d="M3.4 1.2 L14.4 1.2 L14.4 2.6 L3.4 2.6 Z" fill="#dca232"/><path d="M14 -2.4 L15.6 -2.4 Q17.4 -2 17.4 0 Q17.4 2 15.6 2.4 L14 2.4 Z" fill="#f8dcc0" stroke="#dc9447" stroke-width="0.9"/><path d="M0 0 L3.8 -2.6 L3.8 2.6 Z" fill="#e9ab6c"/><path d="M-0.4 0 L2.1 -1.5 L2.1 1.5 Z" fill="#3a2006"/></g></svg></div>
<div class="c o" style="left:0px;top:349px;width:129px"><i>tester-99</i></div>
<div class="c o" style="left:130px;top:349px;width:156px"></div>
<div class="c o" style="left:287px;top:349px;width:113px"></div>
<div class="c o" style="left:401px;top:349px;width:243px"></div>
<div class="c o" style="left:645px;top:349px;width:126px"></div>
<div class="c o" style="left:772px;top:349px;width:172px"><i>CASE TYPE</i></div>
<div class="c o" style="left:945px;top:349px;width:277px"><i>Personal Injury</i></div>
<div class="c o" style="left:1223px;top:349px;width:94px"></div>
<div class="c o" style="left:1318px;top:349px;width:99px"></div>
<div class="c o" style="left:1418px;top:349px;width:99px"><i>CHARGE</i></div>
<div class="c o" style="left:1518px;top:349px;width:141px"><i>Debit Balance</i></div>
<div class="c o" style="left:1660px;top:349px;width:39px"><i>Yes</i></div>
<div class="c k" style="left:1700px;top:349px;width:20px"><svg class="ic" viewBox="0 0 19 19" width="19" height="19"><rect x="0.5" y="0.5" width="16" height="16" rx="1.8" fill="#e9f0fb" stroke="#7ea3da"/><rect x="1.6" y="1.6" width="13.8" height="13.8" fill="none" stroke="#cfdff7" stroke-width="1.1"/><rect x="3" y="3" width="11" height="2.6" fill="#a9c8f2"/><rect x="3" y="6.6" width="11" height="7.6" fill="#f6f8fd"/><rect x="2.8" y="7" width="2.8" height="6.8" fill="#3a74c5"/><g transform="translate(3.7 18) rotate(-42.6)"><path d="M3.4 -2.6 L14.4 -2.6 L14.4 2.6 L3.4 2.6 Z" fill="#f1d146"/><path d="M3.4 -2.6 L14.4 -2.6 L14.4 -1 L3.4 -1 Z" fill="#f9e98e"/><path d="M3.4 1.2 L14.4 1.2 L14.4 2.6 L3.4 2.6 Z" fill="#dca232"/><path d="M14 -2.4 L15.6 -2.4 Q17.4 -2 17.4 0 Q17.4 2 15.6 2.4 L14 2.4 Z" fill="#f8dcc0" stroke="#dc9447" stroke-width="0.9"/><path d="M0 0 L3.8 -2.6 L3.8 2.6 Z" fill="#e9ab6c"/><path d="M-0.4 0 L2.1 -1.5 L2.1 1.5 Z" fill="#3a2006"/></g></svg></div>
<div class="c e" style="left:0px;top:369px;width:129px"><i>tester-shamna23</i></div>
<div class="c e" style="left:130px;top:369px;width:156px"></div>
<div class="c e" style="left:287px;top:369px;width:113px"></div>
<div class="c e" style="left:401px;top:369px;width:243px"></div>
<div class="c e" style="left:645px;top:369px;width:126px"></div>
<div class="c e" style="left:772px;top:369px;width:172px"><i>ENCOUNTER PROCEDURE</i></div>
<div class="c e" style="left:945px;top:369px;width:277px"><i>11102</i></div>
<div class="c e" style="left:1223px;top:369px;width:94px"></div>
<div class="c e" style="left:1318px;top:369px;width:99px"></div>
<div class="c e" style="left:1418px;top:369px;width:99px"><i>CHARGE</i></div>
<div class="c e" style="left:1518px;top:369px;width:141px"><i>Debit Balance</i></div>
<div class="c e" style="left:1660px;top:369px;width:39px"><i>Yes</i></div>
<div class="c k" style="left:1700px;top:369px;width:20px"><svg class="ic" viewBox="0 0 19 19" width="19" height="19"><rect x="0.5" y="0.5" width="16" height="16" rx="1.8" fill="#e9f0fb" stroke="#7ea3da"/><rect x="1.6" y="1.6" width="13.8" height="13.8" fill="none" stroke="#cfdff7" stroke-width="1.1"/><rect x="3" y="3" width="11" height="2.6" fill="#a9c8f2"/><rect x="3" y="6.6" width="11" height="7.6" fill="#f6f8fd"/><rect x="2.8" y="7" width="2.8" height="6.8" fill="#3a74c5"/><g transform="translate(3.7 18) rotate(-42.6)"><path d="M3.4 -2.6 L14.4 -2.6 L14.4 2.6 L3.4 2.6 Z" fill="#f1d146"/><path d="M3.4 -2.6 L14.4 -2.6 L14.4 -1 L3.4 -1 Z" fill="#f9e98e"/><path d="M3.4 1.2 L14.4 1.2 L14.4 2.6 L3.4 2.6 Z" fill="#dca232"/><path d="M14 -2.4 L15.6 -2.4 Q17.4 -2 17.4 0 Q17.4 2 15.6 2.4 L14 2.4 Z" fill="#f8dcc0" stroke="#dc9447" stroke-width="0.9"/><path d="M0 0 L3.8 -2.6 L3.8 2.6 Z" fill="#e9ab6c"/><path d="M-0.4 0 L2.1 -1.5 L2.1 1.5 Z" fill="#3a2006"/></g></svg></div>
<div class="c o" style="left:0px;top:389px;width:129px"><i>tpshamna</i></div>
<div class="c o" style="left:130px;top:389px;width:156px"></div>
<div class="c o" style="left:287px;top:389px;width:113px"></div>
<div class="c o" style="left:401px;top:389px;width:243px"></div>
<div class="c o" style="left:645px;top:389px;width:126px"></div>
<div class="c o" style="left:772px;top:389px;width:172px"><i>ENCOUNTER PROCEDURE</i></div>
<div class="c o" style="left:945px;top:389px;width:277px"><i>99204</i></div>
<div class="c o" style="left:1223px;top:389px;width:94px"></div>
<div class="c o" style="left:1318px;top:389px;width:99px"></div>
<div class="c o" style="left:1418px;top:389px;width:99px"><i>CHARGE</i></div>
<div class="c o" style="left:1518px;top:389px;width:141px"><i>Debit Balance</i></div>
<div class="c o" style="left:1660px;top:389px;width:39px"><i>Yes</i></div>
<div class="c k" style="left:1700px;top:389px;width:20px"><svg class="ic" viewBox="0 0 19 19" width="19" height="19"><rect x="0.5" y="0.5" width="16" height="16" rx="1.8" fill="#e9f0fb" stroke="#7ea3da"/><rect x="1.6" y="1.6" width="13.8" height="13.8" fill="none" stroke="#cfdff7" stroke-width="1.1"/><rect x="3" y="3" width="11" height="2.6" fill="#a9c8f2"/><rect x="3" y="6.6" width="11" height="7.6" fill="#f6f8fd"/><rect x="2.8" y="7" width="2.8" height="6.8" fill="#3a74c5"/><g transform="translate(3.7 18) rotate(-42.6)"><path d="M3.4 -2.6 L14.4 -2.6 L14.4 2.6 L3.4 2.6 Z" fill="#f1d146"/><path d="M3.4 -2.6 L14.4 -2.6 L14.4 -1 L3.4 -1 Z" fill="#f9e98e"/><path d="M3.4 1.2 L14.4 1.2 L14.4 2.6 L3.4 2.6 Z" fill="#dca232"/><path d="M14 -2.4 L15.6 -2.4 Q17.4 -2 17.4 0 Q17.4 2 15.6 2.4 L14 2.4 Z" fill="#f8dcc0" stroke="#dc9447" stroke-width="0.9"/><path d="M0 0 L3.8 -2.6 L3.8 2.6 Z" fill="#e9ab6c"/><path d="M-0.4 0 L2.1 -1.5 L2.1 1.5 Z" fill="#3a2006"/></g></svg></div>
</div>
<div class="abs" style="left:1723px;top:23px;width:1px;height:436px;background:#a6cdfb"></div>
<div class="abs" style="left:1724px;top:23px;width:2px;height:435px;background:linear-gradient(90deg,#dcdcdc,#bcbcbc)"></div>
<div class="abs" style="left:0;top:458px;width:1726px;height:2px;background:#a6cdfb"></div>
<div class="abs" style="left:0;top:460px;width:4px;height:31px;background:linear-gradient(#d0d0d0,#fff 6px)"></div>
<div class="abs" style="left:4px;top:460px;width:1px;height:31px;background:#a6cdfb"></div>
<div class="abs" style="left:27px;top:468px;width:24px;height:19px;background:#fff"></div>
<div class="abs" style="left:29px;top:470px;width:20px;height:15px;background:#fe0000"></div>
<div class="abs" id="legend"><b>Inactive Accounts</b></div>
<div class="abs" style="left:1443px;top:462px;width:96px;height:29px;background:#fff"></div>
<div class="abs" id="btn"><b>C<u>l</u>ose</b></div>
</div>
</body></html>
